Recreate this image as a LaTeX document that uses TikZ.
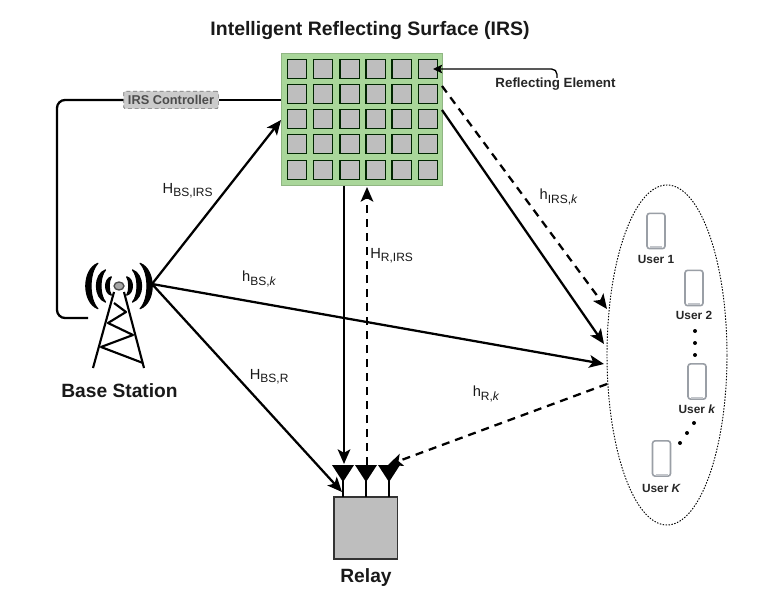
\documentclass[tikz,border=0pt]{standalone}
\usepackage{fontspec}
\setmainfont{Liberation Sans}
\usetikzlibrary{arrows.meta,calc,shapes.geometric}
\tikzset{
  x=0.75pt,y=-0.75pt,
  link/.style={line width=1.7pt,black,-{Stealth[length=11pt,width=9.5pt,inset=2.6pt]}},
  dlink/.style={link,dash pattern=on 6pt off 4.5pt},
  cell/.style={draw=black!75!green!60!black,line width=0.8pt,fill=cellgray,minimum width=14.6pt,minimum height=14.4pt,inner sep=0pt},
  phone/.style={draw=phonegray,line width=1.2pt,rounded corners=2pt,fill=white,minimum width=13.5pt,minimum height=26.5pt,inner sep=0pt},
  boldlab/.style={font=\bfseries\fontsize{10pt}{12pt}\selectfont,text=black!85,inner sep=0pt},
  userlab/.style={font=\bfseries\fontsize{8.9pt}{10pt}\selectfont,text=black!85,inner sep=0pt},
  chan/.style={font=\fontsize{11pt}{13pt}\selectfont,text=black!90,inner sep=0pt},
  bigl/.style={font=\bfseries\fontsize{14.4pt}{17pt}\selectfont,text=black!90,inner sep=0pt},
  ant/.style={fill=black,draw=none},
  dotm/.style={circle,fill=black,inner sep=0pt,minimum size=3pt},
  stem/.style={line width=1.7pt,black},
}
\definecolor{cellgray}{HTML}{BEBEBE}
\definecolor{panelgreen}{HTML}{A9D69A}
\definecolor{phonegray}{HTML}{9A9FA6}
\newcommand{\chsub}[2]{#1\textsubscript{\fontsize{9pt}{10pt}\selectfont #2}}
\begin{document}
\begin{tikzpicture}
\useasboundingbox (0,0) rectangle (764,606);
\fill[white] (0,0) rectangle (764,606);

% Title
\node[font=\bfseries\fontsize{14.6pt}{17pt}\selectfont,text=black!90,inner sep=0pt] (title) at (370,31) {Intelligent Reflecting Surface (IRS)};

% IRS panel
\node[fill=panelgreen,draw=panelgreen!85!black,line width=0.5pt,minimum width=120.5pt,minimum height=99.5pt,inner sep=0pt] (irs) at (362,119.5) {};
\foreach \cx [count=\i] in {297,323,349.7,375.7,401.7,428}
  \foreach \cy [count=\j] in {69,94,119,144.3,170}
    \node[cell] (c\i\j) at (\cx,\cy) {};

% Control line
\node[fill=cellgray!80,draw=black!55,densely dashed,line width=0.5pt,rounded corners=1pt,minimum width=71pt,minimum height=13pt,inner sep=0pt,font=\bfseries\fontsize{9.6pt}{11pt}\selectfont,text=black!70] (ctrl) at (171,100) {IRS Controller};
\coordinate (ctlA) at (88,318);
\coordinate (ctlB) at (57,318);
\coordinate (ctlC) at (57,100);
\draw[line width=1.7pt,black,rounded corners=6pt] (ctlA) -- (ctlB) -- (ctlC) -- (ctrl.west);
\draw[line width=1.7pt,black] (ctrl.east) -- (irs.west |- ctrl.east);

% Tower
\begin{scope}[line width=1.6pt,black,line join=round]
  \draw (114,292) -- (93,368);
  \draw (124,292) -- (144,368);
  \draw (114,303) -- (126,312) -- (108,323) -- (133,335) -- (101,347) -- (143,363);
\end{scope}
\foreach \sx in {1,-1} {
  \begin{scope}[shift={(119,286)},xscale=\sx]
    \foreach \r/\w/\a in {12/2.2/50, 21/2.8/50, 31/3.2/47} {
      \filldraw[black,line width=0.9pt,line join=round] (\a:\r) .. controls ({\a/2}:{1.187*(\r+\w)}) and ({-\a/2}:{1.187*(\r+\w)}) .. (-\a:\r)
        .. controls ({-\a/2}:{1.187*(\r-\w)}) and ({\a/2}:{1.187*(\r-\w)}) .. cycle;
    }
  \end{scope}
}
\node[ellipse,draw=black!70,fill=black!35,line width=1pt,minimum width=7.5pt,minimum height=6pt,inner sep=0pt] (apex) at (119,286) {};
\coordinate (bs) at (152,284);
\node[bigl] (bslabel) at (119.5,391) {Base Station};

% Relay
\node[draw=black!80,fill=cellgray,line width=0.8pt,minimum width=47.3pt,minimum height=46.5pt,inner sep=0pt] (relay) at (365.5,528) {};
\node[bigl] (relaylabel) at (366,578) {Relay};
\foreach \ax [count=\n] in {343,366,389} {
  \coordinate (ant\n) at (\ax,464);
  \fill[ant] (\ax-11,465) -- (\ax+11,465) -- (\ax,482) -- cycle;
  \draw[stem] (\ax,475) -- (\ax,497);
}

% Users
\node[draw=black,dash pattern=on 1.1pt off 1.1pt,line width=0.7pt,ellipse,minimum width=90pt,minimum height=255pt,inner sep=0pt] (users) at (667,355) {};
\foreach \nm/\px/\py/\lab/\ly in {ua/656/231/User 1/259, ub/694/288/User 2/315, uk/697/381.5/User \textit{k}/409, uK/661.5/458.5/User \textit{K}/488} {
  \node[phone] (\nm) at (\px,\py) {};
  \draw[phonegray!60,line width=1.5pt] (\px-6,\py+16) -- (\px+6,\py+16);
  \node[userlab] (\nm l) at (\px,\ly) {\lab};
}
\foreach \dx/\dy [count=\m] in {695/331,695/343,695/355,694/423,687/433,680/443}
  \node[dotm] (d\m) at (\dx,\dy) {};

% Channel end points
\coordinate (e1) at (281,120);
\coordinate (e2) at (604,364);
\coordinate (e3) at (342,492);
\coordinate (s4) at (344,186);
\coordinate (e4) at (344,464);
\coordinate (s5) at (367,465);
\coordinate (e5) at (367,187);
\coordinate (s6) at (442,110);
\coordinate (e6) at (604,344);
\coordinate (s7) at (442,86);
\coordinate (e7) at (607,309);
\coordinate (s8) at (607,384);
\coordinate (e8) at (388,465);
\coordinate (re1) at (557,78);
\coordinate (re2) at (557,69);
\coordinate (re3) at (433,69);

\draw[link] (bs) -- (e1);
\draw[link] (bs) -- (e2);
\draw[link] (bs) -- (e3);
\draw[link] (s4) -- (e4);
\draw[dlink] (s5) -- (e5);
\draw[link] (s6) -- (e6);
\draw[dlink] (s7) -- (e7);
\draw[dlink] (s8) -- (e8);
\draw[link,line width=1pt,-{Stealth[length=7pt,width=6.5pt,inset=1.6pt]},rounded corners=4pt] (re1) -- (re2) -- (re3);
\node[boldlab] (relem) at (555.5,84) {Reflecting Element};

% Channel labels
\node[chan] (l1) at (188,191) {\chsub{H}{BS,IRS}};
\node[chan] (l2) at (392,256) {\chsub{H}{R,IRS}};
\node[chan] (l3) at (559,197) {\chsub{h}{IRS,\textit{k}}};
\node[chan] (l4) at (259.5,279) {\chsub{h}{BS,\textit{k}}};
\node[chan] (l5) at (269.5,377) {\chsub{H}{BS,R}};
\node[chan] (l6) at (486.5,394) {\chsub{h}{R,\textit{k}}};
\end{tikzpicture}
\end{document}
